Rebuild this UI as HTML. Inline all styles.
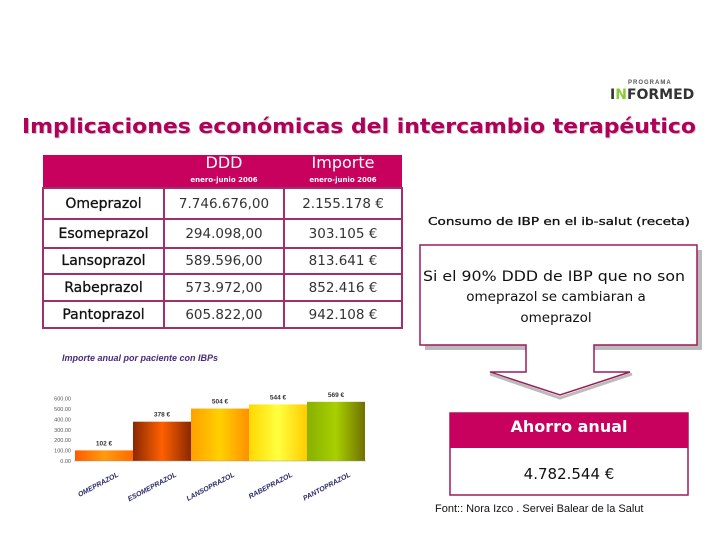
<!DOCTYPE html>
<html><head><meta charset="utf-8"><style>
body{margin:0;width:720px;height:540px;background:#fff;position:relative;overflow:hidden;font-family:"Liberation Sans",sans-serif}
.a{position:absolute}
table{position:absolute;left:42px;top:155px;border-collapse:collapse;width:361px}
td{border:2px solid #a0306a;text-align:center;font:14px "DejaVu Sans",sans-serif;color:#111;padding:0;-webkit-text-stroke:0.3px #111}
td.n{font-size:13.5px;color:#333;-webkit-text-stroke:0}
th{background:#c8005e;color:#fff;font-weight:normal;font-size:16px;height:32px;padding:0;line-height:14px;font-family:"DejaVu Sans",sans-serif}
th small{font-size:7px;font-weight:bold;display:block;margin-top:3px}
</style></head><body>
<div class="a" style="left:610px;top:80px;width:95px;height:26px">
<div class="a" style="left:18px;top:0;font:bold 6px 'Liberation Sans';letter-spacing:1px;color:#555">PROGRAMA</div>
<div class="a" style="left:0;top:7px;font:bold 14px 'DejaVu Sans';color:#333">I<span style="color:#8c3">N</span>FORMED</div></div>
<svg class="a" style="left:0;top:0" width="720" height="150">
<text x="23" y="134" textLength="674" lengthAdjust="spacingAndGlyphs" font-family="DejaVu Sans" font-weight="bold" font-size="20" fill="#ccc">Implicaciones económicas del intercambio terapéutico</text>
<text x="22" y="133" textLength="674" lengthAdjust="spacingAndGlyphs" font-family="DejaVu Sans" font-weight="bold" font-size="20" fill="#b0005a">Implicaciones económicas del intercambio terapéutico</text>
</svg>
<table>
<tr><th style="width:121px"></th><th style="width:120px">DDD<small>enero-junio 2006</small></th><th>Importe<small>enero-junio 2006</small></th></tr>
<tr><td style="height:29px">Omeprazol</td><td class="n">7.746.676,00</td><td class="n">2.155.178 €</td></tr>
<tr><td style="height:27px">Esomeprazol</td><td class="n">294.098,00</td><td class="n">303.105 €</td></tr>
<tr><td style="height:24px">Lansoprazol</td><td class="n">589.596,00</td><td class="n">813.641 €</td></tr>
<tr><td style="height:25px">Rabeprazol</td><td class="n">573.972,00</td><td class="n">852.416 €</td></tr>
<tr><td style="height:25px">Pantoprazol</td><td class="n">605.822,00</td><td class="n">942.108 €</td></tr>
</table>
<svg class="a" style="left:0;top:0" width="720" height="540">
<defs>
<linearGradient id="g0"><stop offset="0" stop-color="#ff5a00"/><stop offset=".5" stop-color="#ff9a10"/><stop offset="1" stop-color="#ff6a00"/></linearGradient>
<linearGradient id="g1"><stop offset="0" stop-color="#8a2800"/><stop offset=".5" stop-color="#ff6000"/><stop offset="1" stop-color="#8a2800"/></linearGradient>
<linearGradient id="g2"><stop offset="0" stop-color="#ffa000"/><stop offset=".5" stop-color="#ffd000"/><stop offset="1" stop-color="#ff9000"/></linearGradient>
<linearGradient id="g3"><stop offset="0" stop-color="#ffd800"/><stop offset=".5" stop-color="#ffff40"/><stop offset="1" stop-color="#ffcc00"/></linearGradient>
<linearGradient id="g4"><stop offset="0" stop-color="#88b000"/><stop offset=".5" stop-color="#a8d000"/><stop offset="1" stop-color="#707000"/></linearGradient>
</defs>
<text x="62" y="361" font-size="9" font-weight="bold" font-style="italic" fill="#4a2a7a">Importe anual por paciente con IBPs</text>
<g id="chart"></g>
<text x="428" y="225" font-family="DejaVu Sans" font-size="11" fill="#111" stroke="#111" stroke-width="0.3" textLength="262" lengthAdjust="spacingAndGlyphs">Consumo de IBP en el ib-salut (receta)</text>
<g>
<path d="M425,350 L702,350 L702,250 L425,250 Z" fill="#bbb"/>
<path d="M420,245 L697,245 L697,345 L594,345 L594,372 L630,372 L560,395 L490,372 L526,372 L526,345 L420,345 Z" fill="#fff" stroke="#9c1a5c" stroke-width="1.5"/>
<path d="M490,374 L560,398 L632,374" fill="none" stroke="#bbb" stroke-width="3"/>
<text x="423" y="281" textLength="262" lengthAdjust="spacingAndGlyphs" font-family="DejaVu Sans" font-size="14" fill="#111">Si el 90% DDD de IBP que no son</text>
<text x="556" y="301" text-anchor="middle" font-family="DejaVu Sans" font-size="13.5" fill="#111">omeprazol se cambiaran a</text>
<text x="556" y="322" text-anchor="middle" font-family="DejaVu Sans" font-size="13.5" fill="#111">omeprazol</text>
</g>
<g>
<rect x="450" y="413" width="238" height="82" fill="#fff" stroke="#9c1a5c" stroke-width="1.5"/>
<rect x="450" y="413" width="238" height="35" fill="#c8005e"/>
<text x="569" y="432" text-anchor="middle" font-family="DejaVu Sans" font-size="16" font-weight="bold" fill="#fff">Ahorro anual</text>
<text x="569" y="479" text-anchor="middle" font-family="DejaVu Sans" font-size="15" fill="#111">4.782.544 €</text>
</g>
<text x="435" y="512" font-size="11" fill="#111">Font:: Nora Izco . Servei Balear de la Salut</text>
</svg>
<script>
const categories=["OMEPRAZOL","ESOMEPRAZOL","LANSOPRAZOL","RABEPRAZOL","PANTOPRAZOL"];
const values=[102,378,504,544,569];
const valueLabels=["102 €","378 €","504 €","544 €","569 €"];
const ticks=[0,100,200,300,400,500,600];
const NS="http://www.w3.org/2000/svg",g=document.getElementById("chart");
const y=v=>461-v*0.104, x0=75, bw=58;
function el(t,a,txt){const e=document.createElementNS(NS,t);for(const k in a)e.setAttribute(k,a[k]);if(txt!=null)e.textContent=txt;g.appendChild(e);return e;}
ticks.forEach(t=>{const e=el("text",{x:71,y:y(t)+2,"text-anchor":"end","font-size":5.5,fill:"#555"},t.toFixed(2));

});
values.forEach((v,i)=>{const bx=x0+i*bw;
const r=el("rect",{x:bx,y:y(v),width:bw,height:y(0)-y(v),fill:"url(#g"+i+")"});


const l=el("text",{x:bx+bw/2,y:y(v)-5,"text-anchor":"middle","font-size":6.5,"font-weight":"bold",fill:"#333"},valueLabels[i]);


const c=el("text",{x:bx+bw/2+15,y:476,"text-anchor":"end","font-size":7,"font-weight":"bold","font-style":"italic",fill:"#2a2a6a",transform:"rotate(-28 "+(bx+bw/2+15)+" 476)"},categories[i]);

});
const ax=el("line",{x1:74,y1:y(0),x2:366,y2:y(0),stroke:"#999","stroke-width":0.5});


</script>
</body></html>
